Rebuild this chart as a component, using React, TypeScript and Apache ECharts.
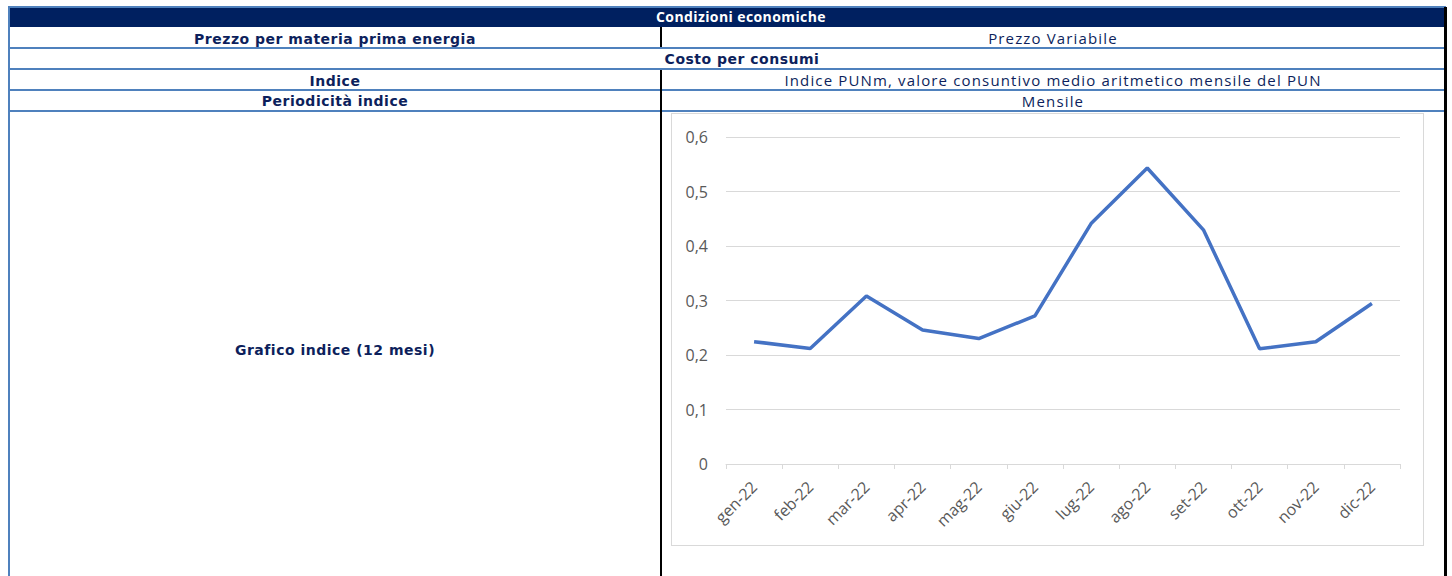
import React, { useEffect, useRef } from "react";
import * as echarts from "echarts";

// ---- data ----
const categories = [
  "gen-22", "feb-22", "mar-22", "apr-22", "mag-22", "giu-22",
  "lug-22", "ago-22", "set-22", "ott-22", "nov-22", "dic-22",
];
const punValues = [
  0.2245, 0.2118, 0.3084, 0.2457, 0.2301, 0.2718,
  0.4411, 0.5432, 0.4296, 0.2114, 0.2242, 0.2946,
];
const yAxisMin = 0;
const yAxisMax = 0.6;
const yAxisStep = 0.1;

const headerTitle = "Condizioni economiche";
const spanRowTitle = "Costo per consumi";
const leftLabels = ["Prezzo per materia prima energia", "Indice", "Periodicità indice", "Grafico indice (12 mesi)"];
const rightValues = ["Prezzo Variabile", "Indice PUNm, valore consuntivo medio aritmetico mensile del PUN", "Mensile"];

const NAVY = "#002060";
const BLUE = "#4f81bd";
const TEXT = "#0d1f5c";
const FONT = "'Open Sans', sans-serif";
const BOLD_FONT = "'DejaVu Sans', sans-serif";

function Chart() {
  const ref = useRef<HTMLDivElement>(null);
  useEffect(() => {
    if (!ref.current) return;
    const chart = echarts.init(ref.current, undefined, { renderer: "svg" });
    chart.setOption({
      animation: false,
      backgroundColor: "transparent",
      grid: { left: 55, right: 24, top: 24, bottom: 82, containLabel: false, outerBoundsMode: "none" },
      xAxis: {
        type: "category",
        data: categories,
        boundaryGap: true,
        axisLine: { lineStyle: { color: "#d9d9d9", width: 1 } },
        axisTick: { show: true, length: 5, lineStyle: { color: "#d9d9d9" } },
        axisLabel: {
          rotate: 45,
          interval: 0,
          margin: 20,
          color: "#595959",
          fontFamily: FONT,
          fontSize: 16,
        },
        splitLine: { show: false },
      },
      yAxis: {
        type: "value",
        min: yAxisMin,
        max: yAxisMax,
        interval: yAxisStep,
        axisLine: { show: false },
        axisTick: { show: false },
        axisLabel: {
          margin: 18,
          color: "#595959",
          fontFamily: FONT,
          fontSize: 16,
          formatter: (v: number) => (Math.round(v * 10) / 10).toString().replace(".", ","),
        },
        splitLine: { lineStyle: { color: "#d9d9d9", width: 1 } },
      },
      series: [
        {
          type: "line",
          data: punValues,
          symbol: "none",
          lineStyle: { color: "#4472c4", width: 3.5 },
          itemStyle: { color: "#4472c4" },
        },
      ],
    });
    return () => chart.dispose();
  }, []);
  return (
    <div
      ref={ref}
      style={{ position: "absolute", left: 671, top: 113, width: 753, height: 433 }}
    />
  );
}

const abs = (l: number, t: number, w: number, h: number, bg: string): React.CSSProperties => ({
  position: "absolute", left: l, top: t, width: w, height: h, background: bg,
});

const textBox = (
  cx: number, cy: number, bold: boolean, color: string, size: number, ls: number, family: string = FONT
): React.CSSProperties => ({
  position: "absolute",
  left: cx - 400,
  top: cy - 10,
  width: 800,
  height: 20,
  lineHeight: "20px",
  textAlign: "center",
  fontFamily: family,
  fontWeight: bold ? 700 : 400,
  fontSize: size,
  letterSpacing: ls,
  color,
  whiteSpace: "nowrap",
});

export default function App() {
  const rowLines = [27, 47, 68, 89, 110];
  return (
    <div style={{ position: "fixed", left: 0, top: 0, width: 1452, height: 576, overflow: "hidden", background: "#fff" }}>
      {/* top border */}
      <div style={abs(8, 6, 1438, 2, BLUE)} />
      {/* left border */}
      <div style={abs(8, 6, 2, 570, BLUE)} />
      {/* header */}
      <div style={abs(10, 8, 1434, 19, NAVY)} />
      {/* row lines */}
      {rowLines.slice(1).map((y) => (
        <div key={y} style={abs(10, y, 1434, 2, BLUE)} />
      ))}
      {/* vertical divider (black) */}
      <div style={abs(660, 27, 2, 20, "#000")} />
      <div style={abs(660, 70, 2, 506, "#000")} />
      {/* right border */}
      <div style={abs(1444, 7, 2.5, 569, "#000")} />

      {/* texts */}
      <div style={textBox(741, 17, true, "#fff", 14, 0.4)}>{headerTitle}</div>
      <div style={textBox(335, 38.5, true, TEXT, 14, 0.5, BOLD_FONT)}>{leftLabels[0]}</div>
      <div style={textBox(1053, 38, false, TEXT, 15, 1.15)}>{rightValues[0]}</div>
      <div style={textBox(742, 59, true, TEXT, 14, 0.5, BOLD_FONT)}>{spanRowTitle}</div>
      <div style={textBox(335, 80.5, true, TEXT, 14, 0.5, BOLD_FONT)}>{leftLabels[1]}</div>
      <div style={textBox(1053, 80, false, TEXT, 15, 1.15)}>{rightValues[1]}</div>
      <div style={textBox(335, 101, true, TEXT, 14, 0.5, BOLD_FONT)}>{leftLabels[2]}</div>
      <div style={textBox(1053, 100.5, false, TEXT, 15, 1.15)}>{rightValues[2]}</div>
      <div style={textBox(335, 349.5, true, TEXT, 14, 0.5, BOLD_FONT)}>{leftLabels[3]}</div>

      {/* chart frame */}
      <div style={{ position: "absolute", left: 671, top: 113, width: 753, height: 433, border: "1px solid #d9d9d9", boxSizing: "border-box" }} />
      <Chart />
    </div>
  );
}
